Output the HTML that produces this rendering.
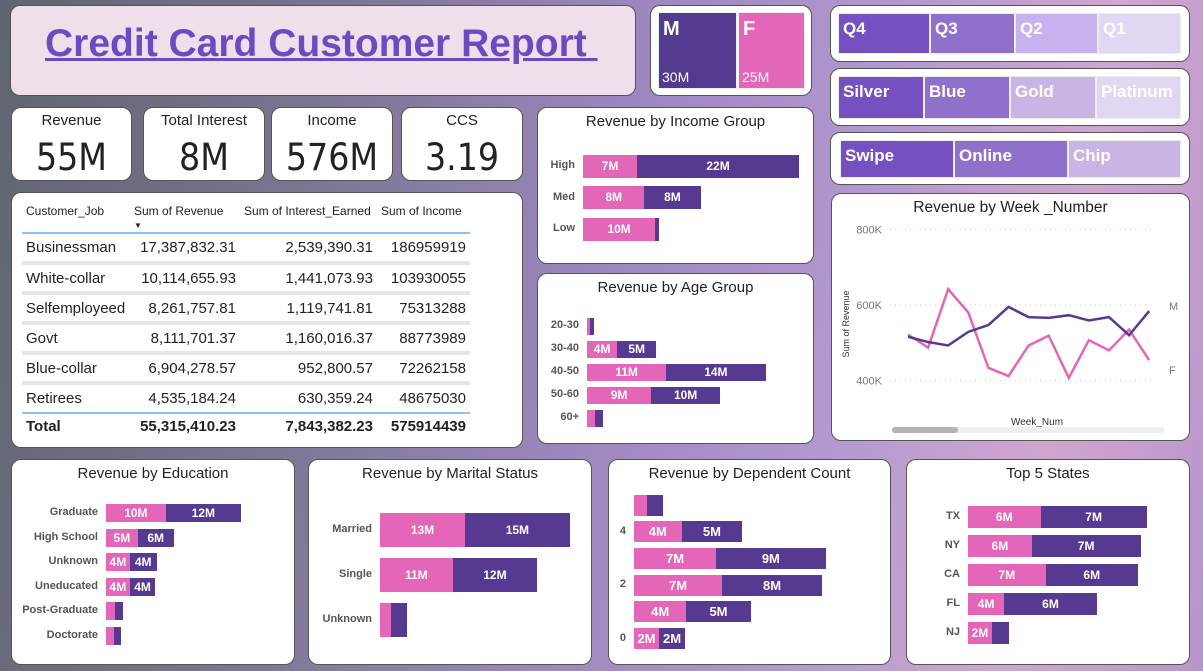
<!DOCTYPE html>
<html><head><meta charset="utf-8">
<style>
*{box-sizing:border-box;margin:0;padding:0}
body{width:1203px;height:671px;overflow:hidden;position:relative;font-family:"Liberation Sans","DejaVu Sans",sans-serif;
background:linear-gradient(100deg,#5f6570 0%,#7a7590 25%,#9d88c0 50%,#b49ad0 70%,#d0a6cf 85%,#b795cc 100%)}
.box{position:absolute;background:#fff;border:1.5px solid #555;border-radius:10px}
.t{position:absolute;white-space:nowrap}
.ct{position:absolute;left:0;right:0;text-align:center;font-size:15px;color:#222;top:5px}
.kl{position:absolute;left:0;right:0;text-align:center;top:4px;font-size:15px;color:#222}
.kv{position:absolute;left:0;right:0;text-align:center;top:28px;font-size:37px;color:#222;font-family:"DejaVu Sans Condensed","Liberation Sans",sans-serif}
.tile{position:absolute;color:#fff;font-weight:bold;font-size:17px;padding:5px 4px;border:1.5px solid #eee;white-space:nowrap;overflow:hidden}
table{position:absolute;left:10px;top:8px;border-collapse:collapse;font-size:15px;color:#222}
td{height:30px;padding:0 4px;border-bottom:4px solid #e6e6e6;white-space:nowrap}
th{font-weight:normal;font-size:12px;height:27px;padding:0 4px;text-align:left;border-bottom:2px solid #8fc2ee;white-space:nowrap;vertical-align:top;padding-top:4px;line-height:13px}
td.n{text-align:right}
tr.last td{border-bottom:2px solid #8fc2ee}
tr.tot td{font-weight:bold;border:none;height:26px}
.bar{position:absolute;color:#fff;font-weight:bold;font-size:12px;text-align:center;overflow:hidden}
.cat{position:absolute;font-size:11px;font-weight:bold;color:#555;text-align:right}
</style></head><body>

<div class="box" style="left:10px;top:5px;width:626px;height:91px;background:#efdfea">
  <div class="t" style="left:34px;top:16px;font-size:39px;font-weight:bold;color:#6a4cc2;text-decoration:underline">Credit Card Customer Report&nbsp;</div>
</div>

<div class="box" style="left:650px;top:5px;width:162px;height:91px">
  <div class="tile" style="left:7px;top:6px;width:79px;height:77px;background:#523a8e;font-size:20px">M<div style="position:absolute;bottom:3px;left:3px;font-weight:normal;font-size:14px">30M</div></div>
  <div class="tile" style="left:87px;top:6px;width:67px;height:77px;background:#e466b8;font-size:20px">F<div style="position:absolute;bottom:3px;left:3px;font-weight:normal;font-size:14px">25M</div></div>
</div>

<div class="box" style="left:830px;top:5px;width:360px;height:57px">
  <div class="tile" style="left:7px;top:7px;width:92px;height:41px;background:#7650c0">Q4</div>
  <div class="tile" style="left:99px;top:7px;width:85px;height:41px;background:#8f71cc">Q3</div>
  <div class="tile" style="left:184px;top:7px;width:83px;height:41px;background:#c6b2ee">Q2</div>
  <div class="tile" style="left:267px;top:7px;width:83px;height:41px;background:#e2d7f3">Q1</div>
</div>

<div class="box" style="left:830px;top:68px;width:360px;height:58px">
  <div class="tile" style="left:7px;top:7px;width:86px;height:43px;background:#7650c0">Silver</div>
  <div class="tile" style="left:93px;top:7px;width:86px;height:43px;background:#8f71cc">Blue</div>
  <div class="tile" style="left:179px;top:7px;width:86px;height:43px;background:#c8b5e6">Gold</div>
  <div class="tile" style="left:265px;top:7px;width:85px;height:43px;background:#e2d7f3">Platinum</div>
</div>

<div class="box" style="left:830px;top:132px;width:360px;height:53px">
  <div class="tile" style="left:9px;top:7px;width:114px;height:38px;background:#7650c0">Swipe</div>
  <div class="tile" style="left:123px;top:7px;width:114px;height:38px;background:#8f71cc">Online</div>
  <div class="tile" style="left:237px;top:7px;width:113px;height:38px;background:#c8b5e6">Chip</div>
</div>

<div class="box" style="left:11px;top:107px;width:121px;height:74px"><div class="kl">Revenue</div><div class="kv">55M</div></div>
<div class="box" style="left:143px;top:107px;width:122px;height:74px"><div class="kl">Total Interest</div><div class="kv">8M</div></div>
<div class="box" style="left:271px;top:107px;width:122px;height:74px"><div class="kl">Income</div><div class="kv">576M</div></div>
<div class="box" style="left:401px;top:107px;width:122px;height:74px"><div class="kl">CCS</div><div class="kv">3.19</div></div>

<div class="box" style="left:11px;top:192px;width:512px;height:256px">
<table>
<tr><th style="width:108px">Customer_Job</th><th style="width:110px">Sum of Revenue<br><span style="font-size:8px">▼</span></th><th style="width:137px">Sum of Interest_Earned</th><th style="width:93px">Sum of Income</th></tr>
<tr><td>Businessman</td><td class="n">17,387,832.31</td><td class="n">2,539,390.31</td><td class="n">186959919</td></tr>
<tr><td>White-collar</td><td class="n">10,114,655.93</td><td class="n">1,441,073.93</td><td class="n">103930055</td></tr>
<tr><td>Selfemployeed</td><td class="n">8,261,757.81</td><td class="n">1,119,741.81</td><td class="n">75313288</td></tr>
<tr><td>Govt</td><td class="n">8,111,701.37</td><td class="n">1,160,016.37</td><td class="n">88773989</td></tr>
<tr><td>Blue-collar</td><td class="n">6,904,278.57</td><td class="n">952,800.57</td><td class="n">72262158</td></tr>
<tr class="last"><td>Retirees</td><td class="n">4,535,184.24</td><td class="n">630,359.24</td><td class="n">48675030</td></tr>
<tr class="tot"><td>Total</td><td class="n">55,315,410.23</td><td class="n">7,843,382.23</td><td class="n">575914439</td></tr>
</table>
</div>

<div class="box" id="c-income" style="left:537px;top:107px;width:277px;height:157px"><div class="ct">Revenue by Income Group</div></div>
<div class="box" id="c-age" style="left:537px;top:273px;width:277px;height:171px"><div class="ct">Revenue by Age Group</div></div>
<div class="box" id="c-line" style="left:831px;top:193px;width:359px;height:248px"><div class="ct" style="font-size:15.5px">Revenue by Week _Number</div></div>
<div class="box" id="c-edu" style="left:11px;top:459px;width:284px;height:206px"><div class="ct">Revenue by Education</div></div>
<div class="box" id="c-mar" style="left:308px;top:459px;width:284px;height:206px"><div class="ct">Revenue by Marital Status</div></div>
<div class="box" id="c-dep" style="left:608px;top:459px;width:283px;height:206px"><div class="ct">Revenue by Dependent Count</div></div>
<div class="box" id="c-st" style="left:906px;top:459px;width:284px;height:206px"><div class="ct">Top 5 States</div></div>

<script>
// ---- data ----
const incomeCats=["High","Med","Low"];
const incomeF=[7.4,8.4,9.9];
const incomeM=[22.2,7.7,0.5];
const ageCats=["20-30","30-40","40-50","50-60","60+"];
const ageF=[0.4,4.2,11.0,8.9,1.1];
const ageM=[0.6,5.4,13.8,9.6,1.1];
const eduCats=["Graduate","High School","Unknown","Uneducated","Post-Graduate","Doctorate"];
const eduF=[9.8,5.2,3.9,3.9,1.5,1.3];
const eduM=[12.3,5.9,4.4,4.2,1.3,1.1];
const marCats=["Married","Single","Unknown"];
const marF=[12.5,10.7,1.6];
const marM=[15.4,12.4,2.4];
const depCats=["","4","","2","","0"];
const depF=[1.1,4.0,6.9,7.4,4.4,2.1];
const depM=[1.3,5.1,9.2,8.4,5.4,2.2];
const stCats=["TX","NY","CA","FL","NJ"];
const stF=[5.8,5.1,6.2,2.9,1.9];
const stM=[8.5,8.7,7.4,7.4,1.4];
const stFLabels=["6M","6M","7M","4M","2M"];
const stMLabels=["7M","7M","6M","6M","3M"];
const weeks=[1,2,3,4,5,6,7,8,9,10,11,12,13];
const lineF=[522,487,642,580,434,412,493,519,407,507,480,535,454];
const lineM=[516,502,493,529,547,595,568,566,573,559,568,520,584];
const yTicks=[400,600,800];
const yTickLabels=["400K","600K","800K"];

const PINK="#e466b8",PURP="#563a92";
function lbl(v){return Math.round(v)+"M";}
function bars(id,cats,F,M,o,fl,ml){
  const box=document.getElementById(id);
  const x=v=>v*o.scale;
  cats.forEach((c,i)=>{
    const cy=o.y0+i*o.step;
    const cl=document.createElement('div');
    
    
    cl.className='cat';cl.textContent=c;
    cl.style.cssText=`left:0;width:${o.x0-8}px;top:${cy-7}px`;
    box.appendChild(cl);
    [[F[i],PINK,0,fl?fl[i]:lbl(F[i])],[M[i],PURP,x(F[i]),ml?ml[i]:lbl(M[i])]].forEach(([v,col,off,t],k)=>{
      const b=document.createElement('div');
      
      
      b.className='bar';
      const w=x(v);
      b.style.cssText=`left:${o.x0+off}px;top:${cy-o.h/2}px;width:${w}px;height:${o.h}px;line-height:${o.h}px;background:${col};font-size:${o.fs||12}px`;
      if(w>18)b.textContent=t;
      box.appendChild(b);
    });
  });
}
bars('c-income',incomeCats,incomeF,incomeM,{x0:45,y0:58,step:31.5,h:23,scale:7.3});
bars('c-age',ageCats,ageF,ageM,{x0:49,y0:52,step:23,h:17,scale:7.2});
bars('c-edu',eduCats,eduF,eduM,{x0:94,y0:53,step:24.6,h:18,scale:6.1});
bars('c-mar',marCats,marF,marM,{x0:71,y0:70,step:45,h:34,scale:6.8});
bars('c-dep',depCats,depF,depM,{x0:25,y0:45,step:26.7,h:21,scale:11.9,fs:13});
bars('c-st',stCats,stF,stM,{x0:61,y0:57,step:29,h:22,scale:12.5},stFLabels,stMLabels);

// line chart
(function(){
  const box=document.getElementById('c-line');
  const NS="http://www.w3.org/2000/svg";
  const svg=document.createElementNS(NS,'svg');
  svg.setAttribute('width','356');svg.setAttribute('height','245');
  
  
  svg.style.cssText='position:absolute;left:0;top:0';
  box.appendChild(svg);
  const X=w=>76+(w-1)*20.1;
  const Y=v=>111-(v-600)*0.378;
  yTicks.forEach((t,i)=>{
    const g=document.createElementNS(NS,'line');
    
    
    g.setAttribute('x1',58);g.setAttribute('x2',322);g.setAttribute('y1',Y(t));g.setAttribute('y2',Y(t));
    g.setAttribute('stroke','#ccc');g.setAttribute('stroke-dasharray','1 4');
    svg.appendChild(g);
    const tx=document.createElementNS(NS,'text');
    
    
    tx.setAttribute('x',50);tx.setAttribute('y',Y(t)+4);tx.setAttribute('text-anchor','end');
    tx.setAttribute('font-size','11');tx.setAttribute('fill','#777');tx.textContent=yTickLabels[i];
    svg.appendChild(tx);
  });
  [[lineF,'#e466b8','F','line-female'],[lineM,'#563a92','M','line-male']].forEach(([d,c,n,nm])=>{
    const p=document.createElementNS(NS,'polyline');
    
    
    p.setAttribute('points',d.map((v,i)=>X(weeks[i])+','+Y(v)).join(' '));
    p.setAttribute('fill','none');p.setAttribute('stroke',c);p.setAttribute('stroke-width','2.5');
    svg.appendChild(p);
    const t=document.createElementNS(NS,'text');
    
    
    t.setAttribute('x',337);t.setAttribute('y',Y(d[d.length-1])+(n==='M'?-1:14));
    t.setAttribute('font-size','11');t.setAttribute('fill','#777');t.textContent=n;
    svg.appendChild(t);
  });
  const yt=document.createElementNS(NS,'text');
  
  
  yt.setAttribute('transform','translate(17,130) rotate(-90)');yt.setAttribute('text-anchor','middle');
  yt.setAttribute('font-size','9');yt.setAttribute('fill','#333');yt.textContent='Sum of Revenue';
  svg.appendChild(yt);
  const xt=document.createElementNS(NS,'text');
  
  
  xt.setAttribute('x',205);xt.setAttribute('y',231);xt.setAttribute('text-anchor','middle');
  xt.setAttribute('font-size','10');xt.setAttribute('fill','#333');xt.textContent='Week_Num';
  svg.appendChild(xt);
  const sb=document.createElementNS(NS,'rect');
  
  
  sb.setAttribute('x',60);sb.setAttribute('y',233);sb.setAttribute('width',272);sb.setAttribute('height',6);sb.setAttribute('rx',3);sb.setAttribute('fill','#eee');
  svg.appendChild(sb);
  const th=document.createElementNS(NS,'rect');
  
  
  th.setAttribute('x',60);th.setAttribute('y',233);th.setAttribute('width',66);th.setAttribute('height',6);th.setAttribute('rx',3);th.setAttribute('fill','#b3b3b3');
  svg.appendChild(th);
})();
</script>
</body></html>
